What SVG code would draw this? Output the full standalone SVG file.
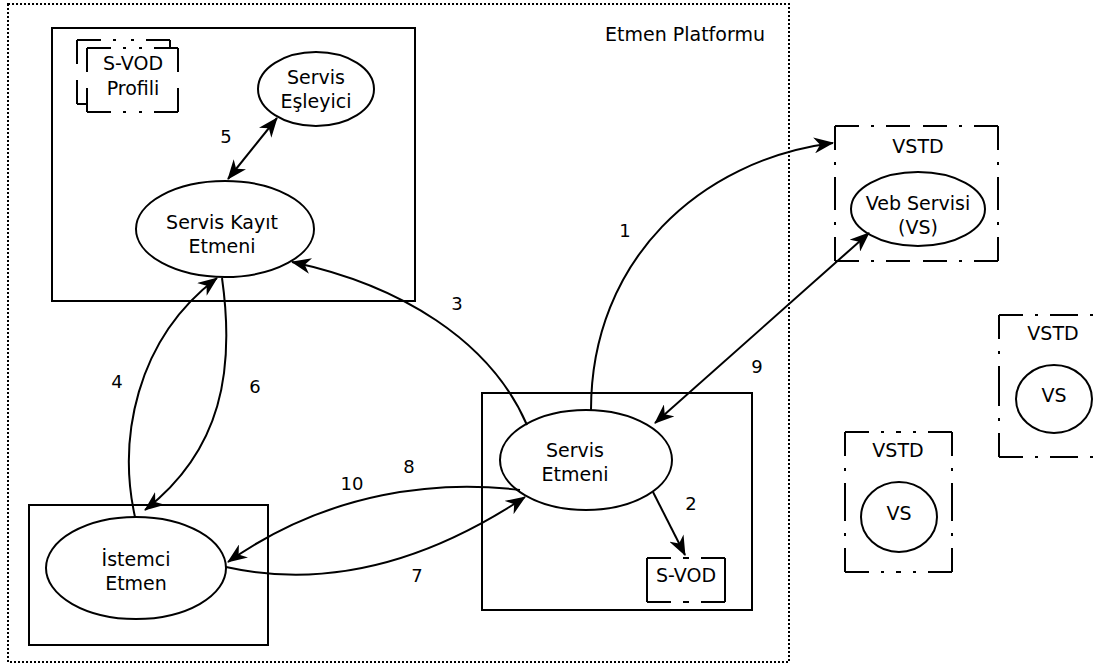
<svg xmlns="http://www.w3.org/2000/svg" width="1099" height="668" viewBox="0 0 1099 668">
  <style>
    .box { fill: none; stroke: #000; stroke-width: 2; }
    .bg { fill: #fff; stroke: none; }
    .dd { fill: none; stroke: #000; stroke-width: 2; stroke-dasharray: 24 12 3 12; }
    .ell { fill: #fff; stroke: #000; stroke-width: 2; }
    .lbl { font-family: "DejaVu Sans", sans-serif; font-size: 19px; fill: #000; text-anchor: middle; }
    .num { font-family: "DejaVu Sans", sans-serif; font-size: 18px; fill: #000; text-anchor: middle; }
    .edge { fill: none; stroke: #000; stroke-width: 2; }
    .one { marker-end: url(#head); }
    .two { marker-start: url(#head); marker-end: url(#head); }
  </style>
  <defs>
    <marker id="head" viewBox="0 0 20 16" refX="19" refY="8" markerWidth="20" markerHeight="16" markerUnits="userSpaceOnUse" orient="auto-start-reverse">
      <path d="M0,0 L20,8 L0,16 L6,8 z" fill="#000"/>
    </marker>
  </defs>
  <rect width="1099" height="668" fill="#fff"/>

  <!-- agent platform boundary -->
  <g id="platform">
    <rect x="8" y="4" width="781" height="658" fill="none" stroke="#000" stroke-width="2" stroke-dasharray="2 2"/>
    <text class="lbl" x="685" y="41">Etmen Platformu</text>
  </g>

  <!-- registry container -->
  <g id="registry">
    <rect class="box" x="52" y="28" width="363" height="273"/>
  </g>

  <!-- dash-dot frames: every side is dashed from both corners towards its middle -->
  <g id="svod-profile">
    <rect class="bg" x="77" y="40" width="93" height="64"/>
    <path class="dd" d="M77 40 H123.5 M170 40 H123.5 M170 40 V72 M170 104 V72 M170 104 H123.5 M77 104 H123.5 M77 104 V72 M77 40 V72"/>
    <rect class="bg" x="87" y="48" width="91" height="64"/>
    <path class="dd" d="M87 48 H132.5 M178 48 H132.5 M178 48 V80 M178 112 V80 M178 112 H132.5 M87 112 H132.5 M87 112 V80 M87 48 V80"/>
    <text class="lbl" x="133" y="70">S-VOD</text>
    <text class="lbl" x="133" y="95">Profili</text>
  </g>

  <g id="matcher">
    <ellipse class="ell" cx="316" cy="89" rx="58" ry="37"/>
    <text class="lbl" x="316" y="84">Servis</text>
    <text class="lbl" x="316" y="108">Eşleyici</text>
  </g>

  <g id="registry-agent">
    <ellipse class="ell" cx="225" cy="229" rx="89" ry="48"/>
    <text class="lbl" x="222" y="229">Servis Kayıt</text>
    <text class="lbl" x="222" y="253">Etmeni</text>
  </g>

  <!-- client -->
  <g id="client">
    <rect class="box" x="29" y="505" width="239" height="140"/>
    <ellipse class="ell" cx="136" cy="568" rx="90" ry="51"/>
    <text class="lbl" x="136" y="566">İstemci</text>
    <text class="lbl" x="136" y="590">Etmen</text>
  </g>

  <!-- service agent -->
  <g id="service-agent">
    <rect class="box" x="482" y="393" width="270" height="217"/>
    <ellipse class="ell" cx="586" cy="460" rx="86" ry="50"/>
    <text class="lbl" x="575" y="457">Servis</text>
    <text class="lbl" x="575" y="481">Etmeni</text>
  </g>

  <g id="svod">
    <rect class="bg" x="647" y="558" width="78" height="44"/>
    <path class="dd" d="M647 558 H686 M725 558 H686 M725 558 V580 M725 602 V580 M725 602 H686 M647 602 H686 M647 602 V580 M647 558 V580"/>
    <text class="lbl" x="686" y="582">S-VOD</text>
  </g>

  <!-- web service descriptions -->
  <g id="vstd-main">
    <path class="dd" d="M835 126 H916.5 M998 126 H916.5 M998 126 V193.5 M998 261 V193.5 M998 261 H916.5 M835 261 H916.5 M835 261 V193.5 M835 126 V193.5"/>
    <text class="lbl" x="918" y="153">VSTD</text>
    <ellipse class="ell" cx="918" cy="209" rx="67" ry="37"/>
    <text class="lbl" x="918" y="210">Veb Servisi</text>
    <text class="lbl" x="918" y="234">(VS)</text>
  </g>

  <g id="vstd-right">
    <path class="dd" d="M999 315 H1064 M1129 315 H1064 M1129 315 V386 M1129 457 V386 M1129 457 H1064 M999 457 H1064 M999 457 V386 M999 315 V386"/>
    <text class="lbl" x="1053" y="340">VSTD</text>
    <ellipse class="ell" cx="1054" cy="399" rx="38" ry="34"/>
    <text class="lbl" x="1054" y="402">VS</text>
  </g>

  <g id="vstd-low">
    <path class="dd" d="M845 432 H898.5 M952 432 H898.5 M952 432 V502 M952 572 V502 M952 572 H898.5 M845 572 H898.5 M845 572 V502 M845 432 V502"/>
    <text class="lbl" x="898" y="457">VSTD</text>
    <ellipse class="ell" cx="899" cy="517" rx="38" ry="35"/>
    <text class="lbl" x="899" y="520">VS</text>
  </g>

  <!-- message flows -->
  <g id="connectors">
    <path class="edge one" d="M591 410 C591 260 700 160 833 143"/>
    <path class="edge one" d="M653 492 L685 555"/>
    <path class="edge one" d="M527 425 C490 340 400 285 292 262"/>
    <path class="edge one" d="M135 517 C118 440 135 340 217 278"/>
    <path class="edge two" d="M277 118 L228 179"/>
    <path class="edge one" d="M222 278 C235 370 222 450 145 510"/>
    <path class="edge one" d="M226 567 C330 590 430 560 525 497"/>
    <path class="edge one" d="M520 490 C440 480 330 490 228 562"/>
    <path class="edge two" d="M869 233 L655 423"/>

    <text class="num" x="625" y="237">1</text>
    <text class="num" x="691" y="510">2</text>
    <text class="num" x="457" y="310">3</text>
    <text class="num" x="117" y="388">4</text>
    <text class="num" x="226" y="143">5</text>
    <text class="num" x="255" y="393">6</text>
    <text class="num" x="417" y="582">7</text>
    <text class="num" x="409" y="473">8</text>
    <text class="num" x="757" y="373">9</text>
    <text class="num" x="352" y="490">10</text>
  </g>
</svg>
